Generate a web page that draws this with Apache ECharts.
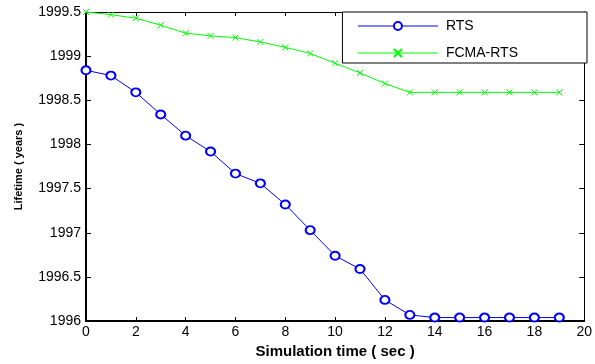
<!DOCTYPE html>
<html>
<head>
<meta charset="utf-8">
<script src="https://cdn.jsdelivr.net/npm/echarts@6/dist/echarts.min.js"></script>
<style>html,body{margin:0;padding:0;background:#fff}#c{width:595px;height:364px}</style>
</head>
<body>
<div id="c"></div>
<script>
var timeSec = [0,1,2,3,4,5,6,7,8,9,10,11,12,13,14,15,16,17,18,19];
var rts = [1998.84,1998.78,1998.59,1998.34,1998.10,1997.92,1997.67,1997.56,1997.32,1997.03,1996.74,1996.59,1996.24,1996.07,1996.04,1996.04,1996.04,1996.04,1996.04,1996.04];
var fcmaRts = [1999.50,1999.47,1999.43,1999.35,1999.26,1999.23,1999.21,1999.16,1999.10,1999.03,1998.92,1998.81,1998.69,1998.59,1998.59,1998.59,1998.59,1998.59,1998.59,1998.59];
var seriesNames = ['RTS','FCMA-RTS'];
var xTitle = 'Simulation time ( sec )';
var yTitle = 'Lifetime ( years )';

function pairs(xs, ys){ return xs.map(function(x,i){ return [x, ys[i]]; }); }
function plain(v){ return String(v); }

var font = 'Liberation Sans, Arial, Helvetica, sans-serif';
var chart = echarts.init(document.getElementById('c'), null, {renderer:'canvas'});
chart.setOption({
  animation:false,
  backgroundColor:'#ffffff',
  grid:{left:86,right:8,top:12,bottom:36},
  legend:{
    data:seriesNames,
    orient:'vertical',
    right:8, top:12,
    padding:[7,69,3,15],
    itemWidth:80, itemHeight:10, itemGap:13,
    backgroundColor:'#ffffff',
    borderColor:'#000000', borderWidth:1,
    lineStyle:{width:1},
    textStyle:{fontFamily:font, fontSize:14, color:'#000', padding:[0,0,0,3]}
  },
  xAxis:[{
    type:'value', min:0, max:20, interval:2, position:'bottom',
    name:xTitle, nameLocation:'middle', nameGap:15,
    nameTextStyle:{fontFamily:font, fontSize:15, fontWeight:'bold', color:'#000'},
    axisLine:{show:true, onZero:false, lineStyle:{color:'#000', width:2}},
    axisTick:{show:true, inside:true, length:4, lineStyle:{color:'#000'}},
    axisLabel:{fontFamily:font, fontSize:14, color:'#000', margin:4, formatter:plain},
    splitLine:{show:false}
  },{
    type:'value', min:0, max:20, interval:2, position:'top',
    axisLine:{show:true, onZero:false, lineStyle:{color:'#000', width:1}},
    axisTick:{show:true, inside:true, length:4, lineStyle:{color:'#000'}},
    axisLabel:{show:false}, splitLine:{show:false}
  }],
  yAxis:[{
    type:'value', min:1996, max:1999.5, interval:0.5, position:'left',
    name:yTitle, nameLocation:'middle', nameGap:62,
    nameTextStyle:{fontFamily:font, fontSize:11, fontWeight:'bold', color:'#000'},
    axisLine:{show:true, onZero:false, lineStyle:{color:'#000', width:2}},
    axisTick:{show:true, inside:true, length:5, lineStyle:{color:'#000'}},
    axisLabel:{fontFamily:font, fontSize:14, color:'#000', margin:5, formatter:plain},
    splitLine:{show:false}
  },{
    type:'value', min:1996, max:1999.5, interval:0.5, position:'right',
    axisLine:{show:true, onZero:false, lineStyle:{color:'#000', width:1}},
    axisTick:{show:true, inside:true, length:5, lineStyle:{color:'#000'}},
    axisLabel:{show:false}, splitLine:{show:false}
  }],
  series:[{
    name:seriesNames[0], type:'line', data:pairs(timeSec, rts),
    symbol:'emptyCircle', symbolSize:[9,8],
    itemStyle:{color:'#0000ff', borderWidth:0.8},
    lineStyle:{color:'#0000ff', width:1}
  },{
    name:seriesNames[1], type:'line', data:pairs(timeSec, fcmaRts),
    symbol:'path://M0,0L10,10M10,0L0,10', symbolSize:6,
    itemStyle:{color:'#00ff00', borderColor:'#00ff00', borderWidth:1},
    lineStyle:{color:'#00ff00', width:1}
  }]
});
</script>
</body>
</html>
